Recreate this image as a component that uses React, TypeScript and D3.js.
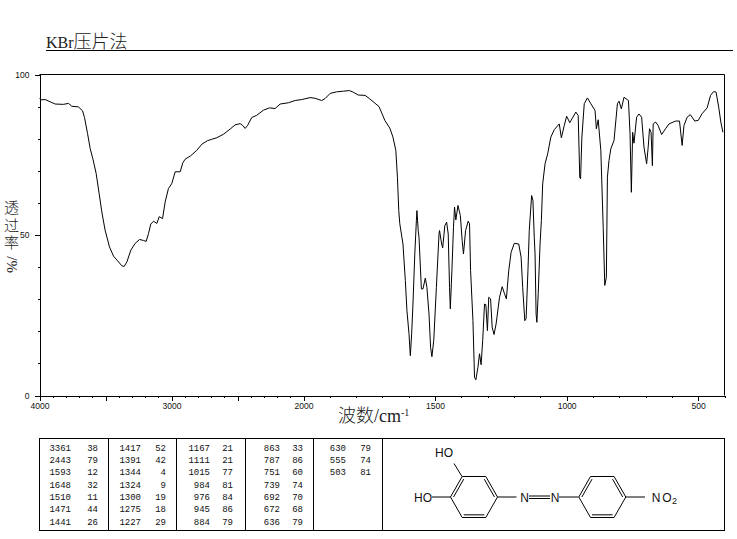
import { useEffect, useRef } from "react";
import * as d3 from "d3";

// spectrum
const wavenumbers = [
  4000, 3990, 3957, 3919, 3881, 3818, 3780, 3755, 3705, 3674, 3659, 3636, 3616, 3596, 3571, 3548, 3528, 3503, 3470, 3439,
  3409, 3376, 3359, 3338, 3308, 3275, 3242, 3212, 3192, 3174, 3157, 3136, 3111, 3093, 3068, 3048, 3023, 2998, 2972, 2934,
  2914, 2897, 2854, 2808, 2770, 2727, 2695, 2657, 2606, 2556, 2518, 2480, 2460, 2442, 2424, 2392, 2354, 2303, 2258, 2215,
  2177, 2114, 2063, 2013, 1975, 1956, 1931, 1918, 1899, 1874, 1848, 1826, 1811, 1792, 1766, 1748, 1729, 1713, 1704, 1691,
  1672, 1660, 1649, 1643, 1638, 1634, 1622, 1613, 1607, 1599, 1594, 1589, 1584, 1577, 1571, 1569, 1564, 1561, 1552, 1546,
  1537, 1531, 1523, 1517, 1512, 1505, 1495, 1485, 1483, 1475, 1471, 1463, 1456, 1450, 1445, 1442, 1436, 1430, 1426, 1421,
  1413, 1404, 1397, 1392, 1384, 1374, 1369, 1365, 1356, 1350, 1345, 1337, 1331, 1325, 1319, 1312, 1307, 1301, 1296, 1289,
  1283, 1276, 1268, 1255, 1245, 1236, 1229, 1220, 1211, 1199, 1182, 1173, 1167, 1159, 1154, 1147, 1142, 1133, 1128, 1123,
  1120, 1116, 1113, 1108, 1101, 1096, 1091, 1082, 1072, 1060, 1047, 1028, 1020, 1009, 1000, 988, 965, 956, 950, 947,
  942, 933, 921, 908, 892, 887, 880, 870, 861, 855, 849, 845, 839, 832, 820, 807, 801, 792, 782, 765,
  759, 754, 749, 744, 734, 725, 715, 706, 696, 690, 685, 679, 674, 671, 662, 652, 639, 624, 611, 586,
  571, 561, 554, 542, 530, 513, 500, 485, 466, 453, 441, 432, 422, 414, 406,
];
const transmittance = [
  92.5, 92.1, 92.2, 91.5, 90.8, 90.7, 91, 90.1, 89.9, 88.7, 86.6, 81.6, 76.9, 73.8, 69.2, 62.9, 57.2, 51.5, 46.3, 43.4,
  42, 40.4, 40.2, 41.6, 45.3, 47.4, 48.6, 48.3, 48, 50.5, 53.4, 54.3, 53.6, 55.7, 55.1, 60.3, 64.5, 66, 69.7, 69.7,
  72.5, 73.6, 74.7, 76.4, 78.3, 79.4, 79.8, 80.3, 81.4, 83, 84.3, 84.7, 84.1, 83.2, 84.1, 86.6, 87.3, 88.9, 89.6, 89.4,
  90.8, 91.2, 91.9, 92.2, 92.8, 92.6, 91.9, 92.5, 94.1, 94.6, 94.8, 95, 94.5, 93.6, 93.5, 92.4, 91.1, 90, 88.3, 85.7,
  83.3, 80.5, 76.3, 68, 57.6, 53.5, 47.2, 35.8, 26.5, 19.2, 12.4, 19.2, 28.5, 44.1, 54.5, 57.6, 51.4, 49.3, 33.2, 33.2,
  36.6, 33.7, 25.4, 15, 12.1, 17.1, 33.7, 50.3, 51.4, 47.2, 46, 52.9, 54, 50.3, 33.7, 27, 38.9, 52.4, 58.7, 54.7,
  59.2, 56.1, 48.3, 44.1, 51.4, 54.3, 53.5, 38.9, 23.3, 5.7, 4.9, 8.8, 13, 9.6, 17.1, 28.5, 28.3, 20.2, 30.6, 30.1,
  21.3, 19, 22.3, 30.6, 33.9, 31.7, 30.1, 38.9, 44.6, 47.4, 47.2, 43.1, 33.7, 23.3, 23.9, 38.9, 51.4, 62.3, 60.7, 49.3,
  44.1, 25.4, 22.8, 31.7, 47.2, 54.5, 65.9, 72.2, 75.3, 80.5, 82.8, 84.6, 80.3, 84.1, 87, 85, 88.3, 87.2, 68, 67.5,
  80.5, 90.9, 92.7, 90.9, 88.8, 83.1, 85.9, 76.3, 52.4, 34.3, 36.8, 68, 73.2, 76.9, 79.4, 90.9, 91.7, 89.3, 92.9, 91.9,
  81.5, 63.3, 82, 78.6, 86.7, 87.7, 86.7, 77.4, 72.2, 77.4, 83.1, 82, 71.6, 84.6, 85.2, 84.1, 81.3, 83.1, 84.6, 85.5,
  85.5, 77.9, 84.1, 86.7, 87.5, 85.5, 85.7, 87.8, 89.6, 93.5, 94.7, 94.5, 89.8, 85.2, 82,
];

const xLabelled = [4000, 3000, 2000, 1500, 1000, 500];
const xMajor = [4000, 3500, 3000, 2500, 2000, 1500, 1000, 500];
const xMinor = d3.range(400, 4001, 100);
const yLabelled = [0, 50, 100];
const yMinor = d3.range(0, 101, 10);

// peak table, one list per column
const peakColumns: [number, number][][] = [
  [[3361, 38], [2443, 79], [1593, 12], [1648, 32], [1510, 11], [1471, 44], [1441, 26]],
  [[1417, 52], [1391, 42], [1344, 4], [1324, 9], [1300, 19], [1275, 18], [1227, 29]],
  [[1167, 21], [1111, 21], [1015, 77], [984, 81], [976, 84], [945, 86], [884, 79]],
  [[863, 33], [787, 86], [751, 60], [739, 74], [692, 70], [672, 68], [636, 79]],
  [[630, 79], [555, 74], [503, 81]],
];
const columnEdges = [39.5, 108.5, 176.5, 245.5, 313.5, 382.5];
const wnRight = [71, 141, 210, 280, 346];
const valRight = [98, 166, 233, 303, 371];

const SANS = "'Liberation Sans', Arial, sans-serif";
const SERIF = "'Liberation Serif', serif";
const CJK = "'Noto Sans CJK SC', sans-serif";

export default function App() {
  const svgRef = useRef<SVGSVGElement | null>(null);

  useEffect(() => {
    if (!svgRef.current) return;
    const svg = d3.select(svgRef.current);
    svg.selectAll("*").remove();

    const left = 39.5;
    const right = 724.5;
    const top = 74.5;
    const bottom = 395.5;

    // the wavenumber axis changes scale at 2000
    const x = d3.scaleLinear().domain([4000, 2000, 400]).range([left, 303.5, right]);
    const y = d3.scaleLinear().domain([0, 100]).range([bottom, top]);

    // Title
    const title = svg.append("text").attr("x", 46).attr("y", 47.5).attr("fill", "#222");
    title.append("tspan").attr("font-family", SERIF).attr("font-size", 16).text("KBr");
    title.append("tspan").attr("font-family", CJK).attr("font-size", 18).attr("font-weight", 300).text("压片法");
    svg.append("line").attr("x1", 46).attr("x2", 733).attr("y1", 50.5).attr("y2", 50.5).attr("stroke", "#000");

    // Frame
    svg.append("path")
      .attr("d", `M${left},${top}H${right}V${bottom}`)
      .attr("fill", "none")
      .attr("stroke", "#000");

    // Axes
    const styleAxis = (g: d3.Selection<SVGGElement, unknown, null, undefined>) => {
      g.select(".domain").attr("stroke", "#000");
      g.selectAll("line").attr("stroke", "#000");
      g.selectAll("text").attr("font-family", SANS).attr("font-size", 8.5).attr("fill", "#111");
    };
    const bottomG = (axis: d3.Axis<d3.NumberValue>) => {
      const g = svg.append("g").attr("transform", `translate(0,${bottom})`).attr("shape-rendering", "crispEdges");
      g.call(axis as any);
      styleAxis(g as any);
      return g;
    };
    const leftG = (axis: d3.Axis<d3.NumberValue>) => {
      const g = svg.append("g").attr("transform", `translate(${left},0)`).attr("shape-rendering", "crispEdges");
      g.call(axis as any);
      styleAxis(g as any);
      return g;
    };

    bottomG(d3.axisBottom(x).tickValues(xMinor).tickSize(2).tickSizeOuter(0).tickFormat(() => ""));
    bottomG(d3.axisBottom(x).tickValues(xMajor).tickSize(5).tickSizeOuter(0).tickFormat(() => ""));
    bottomG(
      d3.axisBottom(x).tickValues(xLabelled).tickSize(0).tickSizeOuter(0).tickPadding(7).tickFormat((d) => String(d))
    );

    leftG(d3.axisLeft(y).tickValues(yMinor).tickSize(2).tickSizeOuter(0).tickFormat(() => ""));
    leftG(
      d3.axisLeft(y).tickValues(yLabelled).tickSize(5).tickSizeOuter(0).tickPadding(5).tickFormat((d) => String(d))
    );

    // Spectrum
    const line = d3
      .line<number>()
      .x((d) => x(d))
      .y((_, i) => y(transmittance[i]));
    svg.append("path")
      .attr("d", line(wavenumbers))
      .attr("fill", "none")
      .attr("stroke", "#000")
      .attr("stroke-width", 1);

    // Axis titles
    const xTitle = svg.append("text").attr("x", 338).attr("y", 422).attr("fill", "#222");
    xTitle.append("tspan").attr("font-family", CJK).attr("font-size", 18).attr("font-weight", 300).text("波数");
    xTitle.append("tspan").attr("font-family", SERIF).attr("font-size", 18).text("/cm");
    xTitle.append("tspan").attr("font-family", SERIF).attr("font-size", 10).attr("dy", -6).text("-1");

    svg.append("text")
      .attr("x", 11.5)
      .attr("y", 200)
      .style("writing-mode", "vertical-rl")
      .style("letter-spacing", "2.5px")
      .attr("font-family", CJK)
      .attr("font-size", 15)
      .attr("font-weight", 300)
      .attr("fill", "#222")
      .text("透过率");
    svg.append("text")
      .attr("transform", "translate(17,273) rotate(-90)")
      .attr("font-family", SERIF)
      .attr("font-size", 15)
      .attr("fill", "#222")
      .text("%/");

    // Peak table
    svg.append("rect")
      .attr("x", left)
      .attr("y", 438.5)
      .attr("width", right - left)
      .attr("height", 92)
      .attr("fill", "none")
      .attr("stroke", "#000");
    columnEdges.slice(1).forEach((e) => {
      svg.append("line").attr("x1", e).attr("x2", e).attr("y1", 438.5).attr("y2", 530.5).attr("stroke", "#000");
    });
    const rowY = d3.scalePoint<number>().domain(d3.range(7)).range([447.5, 521.5]);
    peakColumns.forEach((col, c) => {
      col.forEach(([wn, t], r) => {
        [[wnRight[c], wn], [valRight[c], t]].forEach(([px, v]) => {
          svg.append("text")
            .attr("x", px)
            .attr("y", rowY(r)!)
            .attr("dy", "0.36em")
            .attr("text-anchor", "end")
            .attr("font-family", "'Liberation Mono', monospace")
            .attr("font-size", 9)
            .attr("fill", "#111")
            .text(v);
        });
      });
    });

    // Structure: two benzene rings joined by the azo group
    const mol = svg.append("g").attr("stroke", "#000").attr("stroke-width", 1).attr("fill", "none");
    const rx = 23.5;
    const halfX = 11.8;
    const ry = 20.5;
    const ring = (cx: number) => {
      const c = 497;
      const pts: [number, number][] = [
        [cx - halfX, c - ry], [cx + halfX, c - ry], [cx + rx, c], [cx + halfX, c + ry], [cx - halfX, c + ry], [cx - rx, c],
      ];
      mol.append("path").attr("d", d3.line()(pts)! + "Z");
      // inner double bonds
      const toward = (p: [number, number]): [number, number] => [p[0] + (cx - p[0]) * 0.13, p[1] + (c - p[1]) * 0.13];
      [[5, 0], [1, 2], [3, 4]].forEach(([a, b]) => {
        const p = toward(pts[a]);
        const q = toward(pts[b]);
        mol.append("path").attr("d", d3.line()([p, q])!);
      });
    };
    ring(474);
    ring(602.3);
    const bonds: [number, number, number, number][] = [
      [462, 476.5, 454, 463.5],
      [450.5, 497, 432, 497],
      [497.5, 497, 516.5, 497],
      [559, 497, 578.5, 497],
      [625.8, 497, 645, 497],
      [529, 496, 550, 496],
      [529, 498.5, 550, 498.5],
    ];
    bonds.forEach(([x1, y1, x2, y2]) => {
      mol.append("line").attr("x1", x1).attr("y1", y1).attr("x2", x2).attr("y2", y2);
    });
    const atom = (tx: number, ty: number, s: string, size = 12) =>
      svg.append("text")
        .attr("x", tx)
        .attr("y", ty)
        .attr("dy", "0.36em")
        .attr("text-anchor", "middle")
        .attr("font-family", SANS)
        .attr("font-size", size)
        .attr("fill", "#111")
        .text(s);
    atom(444, 453, "HO");
    atom(423, 497.5, "HO");
    atom(524.5, 497.5, "N");
    atom(555, 497.5, "N");
    atom(656, 497.5, "N");
    atom(667, 497.5, "O");
    atom(674.5, 500.5, "2", 9);
  }, []);

  return (
    <svg
      ref={svgRef}
      width={737}
      height={539}
      viewBox="0 0 737 539"
      style={{ position: "absolute", left: 0, top: 0, background: "#fff" }}
    ></svg>
  );
}
